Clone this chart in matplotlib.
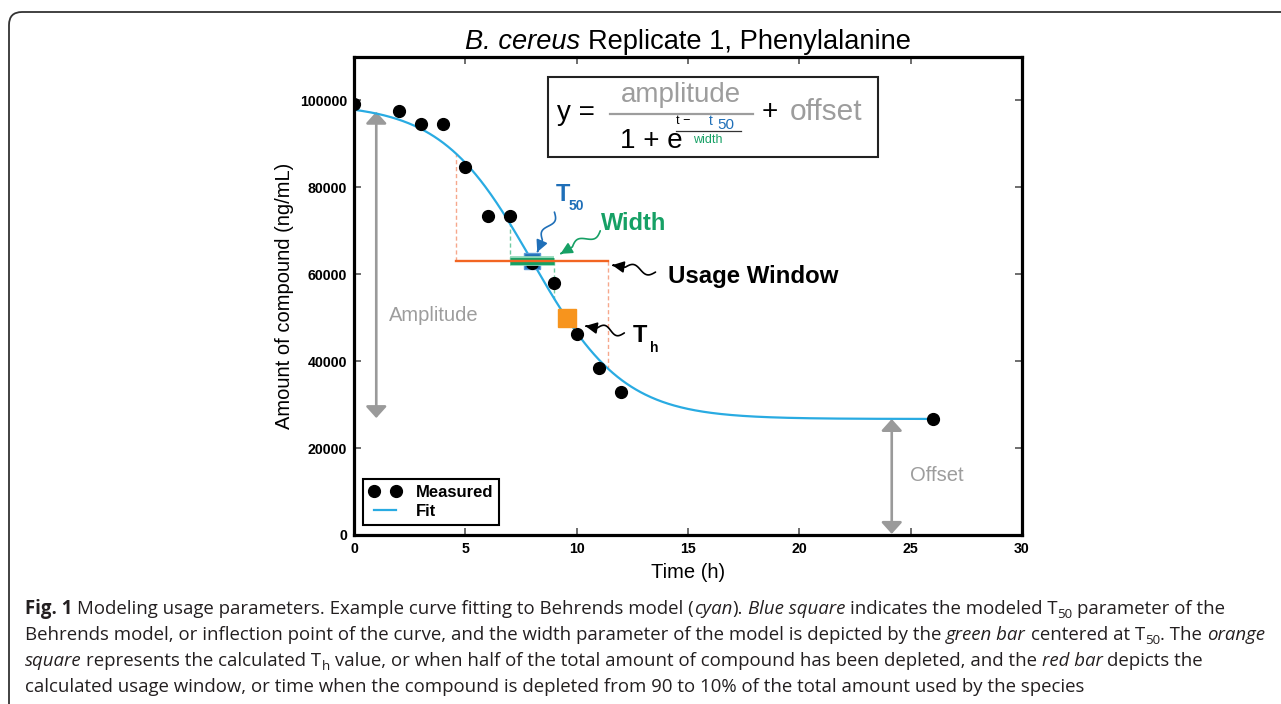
import numpy as np
import matplotlib
matplotlib.use('Agg')
import matplotlib.pyplot as plt
from matplotlib.patches import Rectangle, FancyBboxPatch, FancyArrowPatch
from matplotlib.path import Path
from matplotlib.transforms import IdentityTransform
import matplotlib.patheffects as pe

plt.rcParams['font.family'] = ['Liberation Sans', 'DejaVu Sans']

# ---------------- data ----------------
time_h = [0, 2, 3, 4, 5, 6, 7, 8, 9, 10, 11, 12, 26]
measured = [99100, 97500, 94600, 94600, 84600, 73300, 73300, 62500, 58100, 46200, 38400, 33000, 26700]

# Behrends model fit parameters
fit_amplitude = 72600
fit_offset = 26700
fit_t50 = 8.0
fit_width = 2.05
fit_t_max = 26

width_bar = [7.0, 9.0]          # green bar (width parameter)
usage_window = [4.6, 11.4]      # red bar (90% -> 10%)
t_half = 9.55                   # orange square T_h
amplitude_arrow = [26900, 97400]
amplitude_arrow_x = 1.0
offset_arrow_x = 24.15

x_ticks = [0, 5, 10, 15, 20, 25, 30]
y_ticks = [0, 20000, 40000, 60000, 80000, 100000]

CYAN = '#29abe2'
BLUE = '#1f6fb8'
GREEN = '#16a065'
RED = '#f26522'
ORANGE = '#f7941d'
GRAY = '#9d9d9d'


def model(t):
    t = np.asarray(t, dtype=float)
    return fit_offset + fit_amplitude / (1 + np.exp((t - fit_t50) / fit_width))


W, H = 1281, 704
fig = plt.figure(figsize=(W / 100, H / 100), dpi=100)
ax = fig.add_axes([354 / W, (H - 535) / H, (1022 - 354) / W, (535 - 57) / H])
ax.set_xlim(0, 30)
ax.set_ylim(0, 110000)

# outer rounded frame
frame = FancyBboxPatch((9 / 100, -1.0), 20, (H - 12) / 100 + 1.0,
                       boxstyle='round,pad=0,rounding_size=0.13',
                       transform=fig.dpi_scale_trans, fill=False,
                       ec='#333333', lw=1.3, clip_on=False)
fig.add_artist(frame)

# fit and data
t_fit = np.linspace(0, fit_t_max, 500)
fit_line, = ax.plot(t_fit, model(t_fit), color=CYAN, lw=1.6, label='Fit', zorder=3)
meas_line, = ax.plot(time_h, measured, 'o', color='black', ms=8.5, label='Measured', zorder=5)

level = model(fit_t50)

# dashed guides
for tx in usage_window:
    ax.plot([tx, tx], [level, float(model(tx))], color='#f6a88c', lw=1.0,
            dashes=(3, 2), zorder=2)
for tx in width_bar:
    ax.plot([tx, tx], [level, float(model(tx))], color='#6fcba2', lw=1.0,
            dashes=(3, 2), zorder=2)

# blue square (T50)
ax.plot([fit_t50], [level], 's', ms=11, mfc=BLUE, mec='#5a9ad6', mew=1.0, zorder=4)
# green bar (width)
ax.plot(width_bar, [level, level], color=GREEN, lw=5, solid_capstyle='butt', zorder=6,
        path_effects=[pe.Stroke(linewidth=7, foreground='#8fd8b8'), pe.Normal()])
# red bar (usage window)
ax.plot(usage_window, [level, level], color=RED, lw=1.7, zorder=7)
# orange square (T_h)
ax.plot([t_half], [float(model(t_half))], 's', ms=13, color=ORANGE, zorder=6)

# amplitude / offset arrows
arrow_kw = dict(arrowstyle='<|-|>,head_length=0.5,head_width=0.45', color='#9a9a9a',
                lw=1.9, shrinkA=0, shrinkB=0, mutation_scale=14)
ax.annotate('', xy=(amplitude_arrow_x, amplitude_arrow[1]),
            xytext=(amplitude_arrow_x, amplitude_arrow[0]), arrowprops=arrow_kw, zorder=2)
ax.annotate('', xy=(offset_arrow_x, fit_offset), xytext=(offset_arrow_x, 250),
            arrowprops=arrow_kw, zorder=2)
ax.text(1.57, 50600, 'Amplitude', color=GRAY, fontsize=14.5, va='center', ha='left')
ax.text(24.96, 13800, 'Offset', color=GRAY, fontsize=14.5, va='center', ha='left')

# formula box
ax.add_patch(Rectangle((8.73, 87000), 14.79, 18400, fill=True, fc='white',
                       ec='#222222', lw=1.5, zorder=8))
ftk = dict(zorder=9, va='center')
ax.text(9.1, 97000, 'y =', fontsize=20, color='black', ha='left', **ftk)
ax.text(14.7, 101300, 'amplitude', fontsize=20, color=GRAY, ha='center', **ftk)
ax.plot([11.5, 17.9], [96900, 96900], color=GRAY, lw=1.6, zorder=9)
ax.text(11.96, 90700, '1 + e', fontsize=20, color='black', ha='left', **ftk)
ax.text(14.44, 95250, 't \u2212', fontsize=9, color='black', ha='left', **ftk)
ax.text(15.92, 95250, 't', fontsize=10, color=BLUE, ha='left', **ftk)
ax.text(16.3, 94250, '50', fontsize=11, color=BLUE, ha='left', **ftk)
ax.plot([14.44, 17.4], [93000, 93000], color='#333333', lw=0.9, zorder=9)
ax.text(15.88, 91000, 'width', fontsize=9, color=GREEN, ha='center', **ftk)
ax.text(18.67, 97300, '+', fontsize=20, color='black', ha='center', **ftk)
ax.text(19.57, 97300, 'offset', fontsize=21.5, color=GRAY, ha='left', **ftk)

# annotation labels
ax.text(9.04, 78250, 'T', fontsize=17, fontweight='bold', color=BLUE, va='center', ha='left')
ax.text(9.62, 75700, '50', fontsize=10, fontweight='bold', color=BLUE, va='center', ha='left')
ax.text(11.07, 71600, 'Width', fontsize=17, fontweight='bold', color=GREEN, va='center', ha='left')
ax.text(14.12, 59600, 'Usage Window', fontsize=17.3, fontweight='bold', color='black',
        va='center', ha='left')
ax.text(12.5, 45800, 'T', fontsize=17, fontweight='bold', color='black', va='center', ha='left')
ax.text(13.31, 43050, 'h', fontsize=10, fontweight='bold', color='black', va='center', ha='left')


def squiggle(start, end, color, amp=4.0):
    p0 = ax.transData.transform(start)
    p1 = ax.transData.transform(end)
    d = p1 - p0
    L = np.hypot(*d)
    u = d / L
    n = np.array([-u[1], u[0]])
    s = np.linspace(0, 1, 80)
    off = np.where(s < 0.7, amp * np.sin(2 * np.pi * s / 0.7), 0.0)
    pts = p0 + np.outer(s, d) + np.outer(off, n)
    pts = ax.transData.inverted().transform(pts)
    arr = FancyArrowPatch(path=Path(pts), arrowstyle='-|>,head_length=0.5,head_width=0.25',
                          mutation_scale=14, color=color, lw=1.2, zorder=8)
    ax.add_patch(arr)


squiggle((9.0, 74300), (8.23, 65100), BLUE)
squiggle((11.06, 70000), (9.27, 64700), GREEN)
squiggle((13.54, 60500), (11.6, 62100), 'black')
squiggle((12.14, 46500), (10.39, 48100), 'black')

# axes styling
ax.set_xticks(x_ticks)
ax.set_yticks(y_ticks)
for s in ax.spines.values():
    s.set_linewidth(2.3)
    s.set_color('black')
ax.tick_params(direction='in', length=5, width=1.2, color='#555555', top=True, right=True,
               labelsize=10.2, pad=5)
for lab in ax.get_xticklabels() + ax.get_yticklabels():
    lab.set_fontweight('bold')
ax.set_xlabel('Time (h)', fontsize=14.5, labelpad=5)
ax.set_ylabel('Amount of compound (ng/mL)', fontsize=14.5, labelpad=4)

leg = ax.legend(handles=[meas_line, fit_line], loc='lower left',
                bbox_to_anchor=(0.0135, 0.021), prop={'weight': 'bold', 'size': 12},
                frameon=True, fancybox=False, edgecolor='black', framealpha=1,
                numpoints=2, handlelength=1.9, handletextpad=0.9, borderpad=0.35,
                labelspacing=0.25, borderaxespad=0)
leg.get_frame().set_linewidth(1.5)
leg.set_zorder(10)

# ---------------- rich text runs ----------------
renderer = fig.canvas.get_renderer()


def _measure(s, props):
    t = fig.text(0, 0, s, transform=IdentityTransform(), **props)
    w = t.get_window_extent(renderer).width
    t.remove()
    return w


def draw_runs(x, y, runs, size, family, color='black', ha='left', target=None, draw=True):
    def layout(sz):
        pieces = []
        cx = 0.0
        for text, st in runs:
            props = dict(fontsize=sz * st.get('scale', 1.0), family=family,
                         fontweight=st.get('weight', 'normal'),
                         fontstyle=st.get('style', 'normal'),
                         color=st.get('color', color))
            sp = _measure('x x', props) - _measure('xx', props)
            core = text.strip(' ')
            lead = len(text) - len(text.lstrip(' '))
            trail = len(text) - len(text.rstrip(' '))
            cx += lead * sp
            w = _measure(core, props) if core else 0.0
            pieces.append((cx, core, props, st.get('dy', 0.0) * sz * 100 / 72))
            cx += w + trail * sp
        return pieces, cx

    pieces, total = layout(size)
    if target:
        size = size * target / total
        pieces, total = layout(size)
    if draw:
        x0 = x - (total / 2 if ha == 'center' else 0)
        for cx, core, props, dy in pieces:
            if core:
                fig.text(x0 + cx, y + dy, core, transform=IdentityTransform(),
                         va='baseline', ha='left', **props)
    return size


R = {}
B = {'weight': 'bold'}
I = {'style': 'italic'}
SUB = {'scale': 0.72, 'dy': -0.22}

title_runs = [('B. cereus', I), (' Replicate 1, Phenylalanine', R)]
draw_runs(688, H - 49, title_runs, 18, ['Liberation Sans', 'DejaVu Sans'],
          ha='center', target=445)

caption_lines = [
    [('Fig. 1', B), (' Modeling usage parameters. Example curve fitting to Behrends model (', R),
     ('cyan', I), ('). ', R), ('Blue square', I), (' indicates the modeled T', R), ('50', SUB),
     (' parameter of the', R)],
    [('Behrends model, or inflection point of the curve, and the width parameter of the model is depicted by the ', R),
     ('green bar', I), (' centered at T', R), ('50', SUB), ('. The ', R), ('orange', I)],
    [('square', I), (' represents the calculated T', R), ('h', SUB),
     (' value, or when half of the total amount of compound has been depleted, and the ', R),
     ('red bar', I), (' depicts the', R)],
    [('calculated usage window, or time when the compound is depleted from 90 to 10% of the total amount used by the species', R)],
]
cap_family = ['Open Sans', 'DejaVu Sans']
cap_size = draw_runs(25, 0, caption_lines[1], 12, cap_family, target=1237, draw=False)
for i, line in enumerate(caption_lines):
    draw_runs(25, H - (614 + 26 * i), line, cap_size, cap_family, color='#231f20')

fig.savefig('out.png', dpi=100)
